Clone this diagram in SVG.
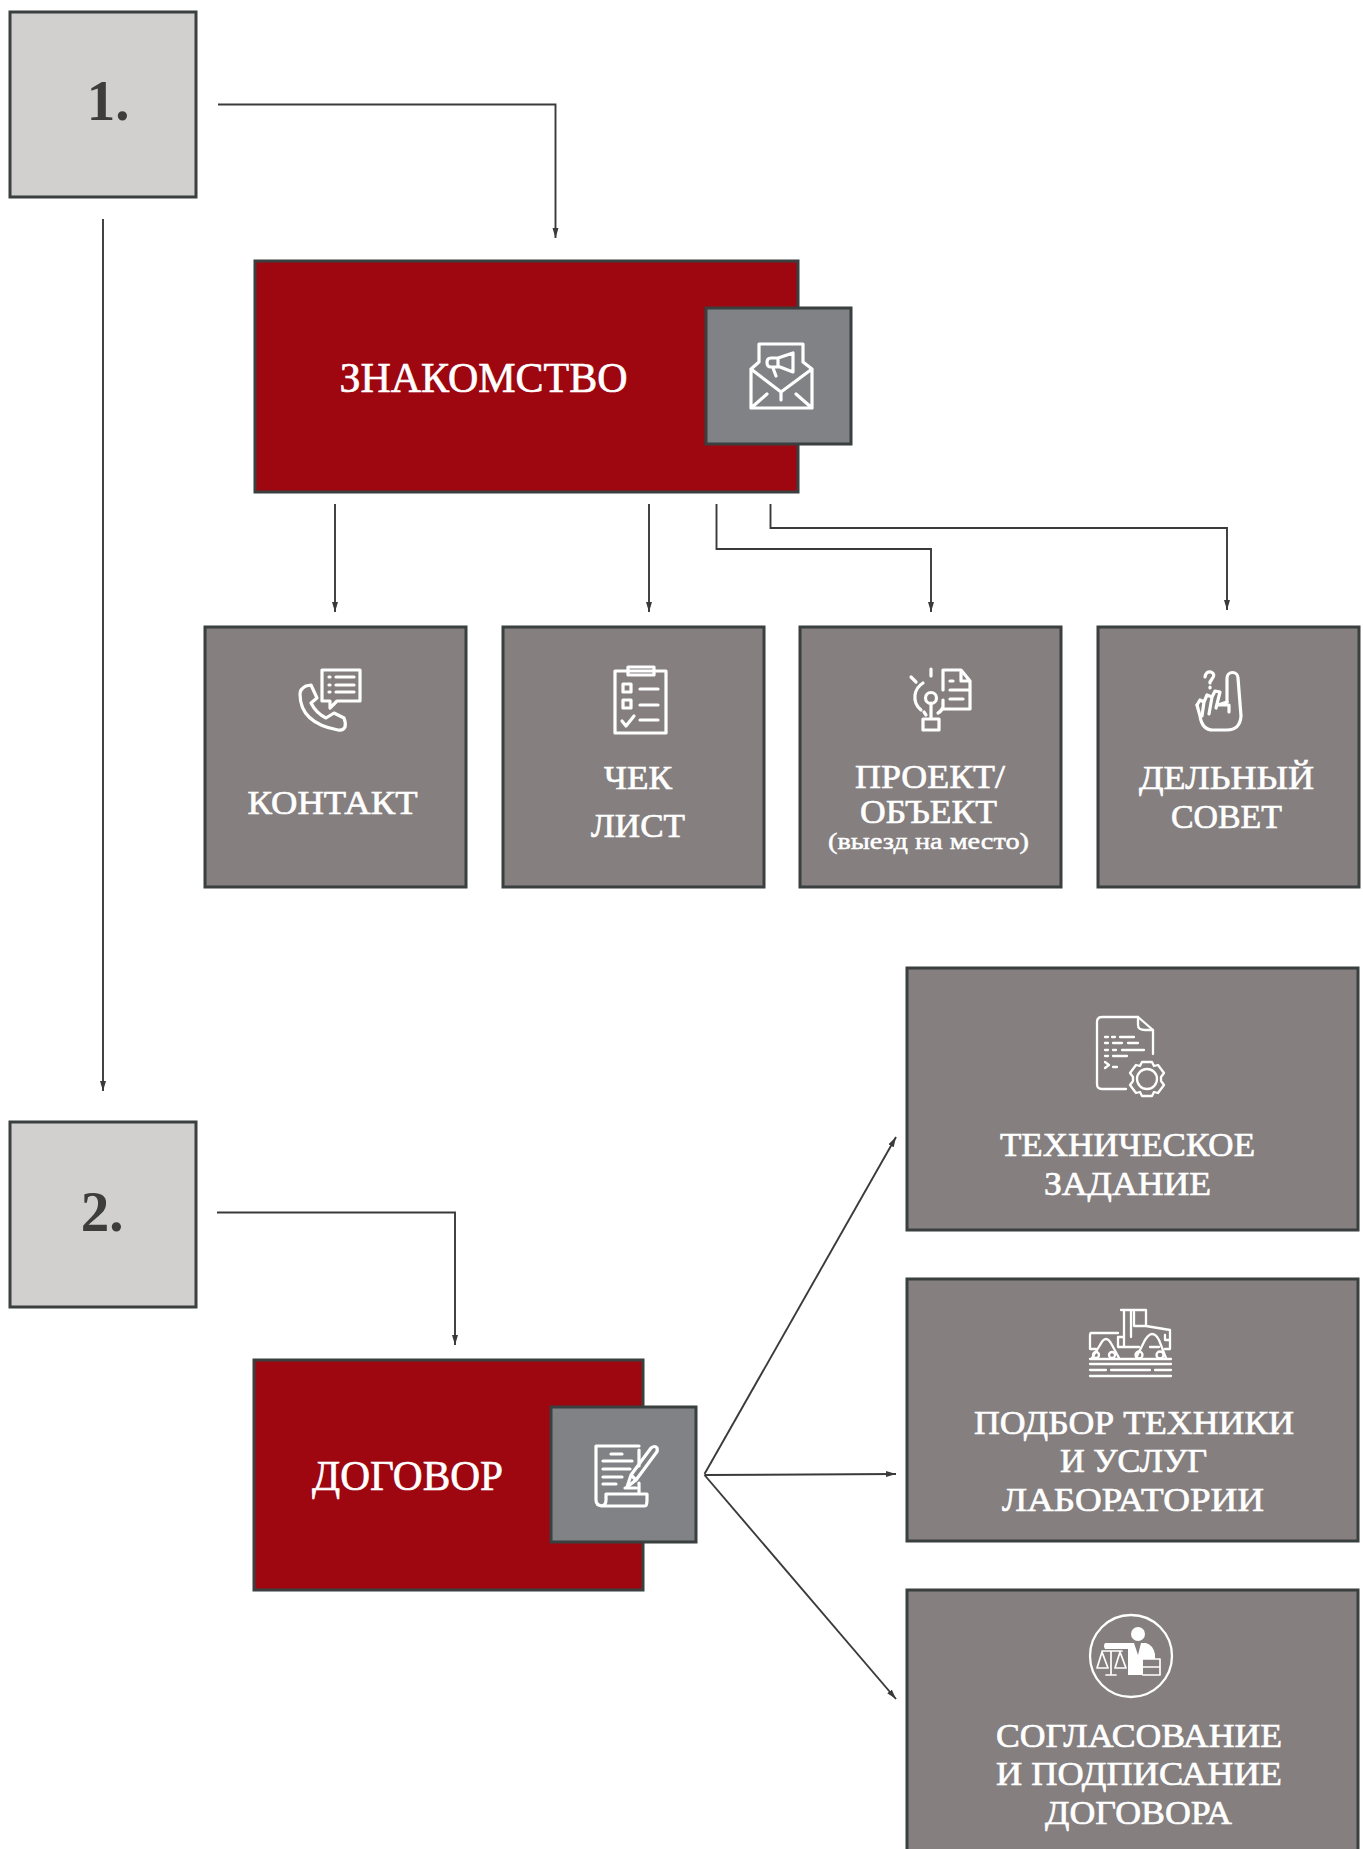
<svg xmlns="http://www.w3.org/2000/svg" width="1363" height="1849" viewBox="0 0 1363 1849">
<defs>
<marker id="arr" viewBox="0 0 10 10" refX="10" refY="5" markerWidth="10" markerHeight="10" markerUnits="userSpaceOnUse" orient="auto"><path d="M0 2L10 5L0 8Z" fill="#3a3a3a"/></marker>
</defs>
<style>
.num{fill:#d1d0ce;stroke:#3a3f3f;stroke-width:3}
.red{fill:#9e0610;stroke:#3a3f3f;stroke-width:3}
.ico{fill:#808285;stroke:#3a3f3f;stroke-width:3}
.box{fill:#857f80;stroke:#3a3f3f;stroke-width:3}
.i{fill:none;stroke:#fff;stroke-width:3.2;stroke-linecap:round;stroke-linejoin:round}
.th{stroke-width:2.3}
.hr{stroke-width:1.700}
.t{font-family:"Liberation Serif","Noto Serif",serif;fill:#fff;stroke:#fff;stroke-width:.65;text-anchor:middle}
.s{font-size:34px}
.l{font-size:42px}
.e{font-size:24px;stroke-width:.5}
.n{font-family:"Liberation Serif",serif;font-weight:bold;font-size:57px;fill:#3d3d3d;text-anchor:middle}
.c{fill:none;stroke:#3a3a3a;stroke-width:1.900}
</style>
<g id="connectors">
<path class="c" marker-end="url(#arr)" d="M218 104.500H555.500V238"/>
<path class="c" marker-end="url(#arr)" d="M103 219V1091"/>
<path class="c" marker-end="url(#arr)" d="M335 504V612"/>
<path class="c" marker-end="url(#arr)" d="M649 504V612"/>
<path class="c" marker-end="url(#arr)" d="M716.500 504V549H931V612"/>
<path class="c" marker-end="url(#arr)" d="M770.500 504V528H1227V610"/>
<path class="c" marker-end="url(#arr)" d="M217 1212.500H455V1345"/>
<path class="c" marker-end="url(#arr)" d="M704.500 1474L896 1137"/>
<path class="c" marker-end="url(#arr)" d="M704.500 1475L896 1474"/>
<path class="c" marker-end="url(#arr)" d="M704.500 1475L896 1699"/>
</g>
<g id="step1"><rect class="num" x="10" y="12" width="186" height="185"/><text class="n" x="108" y="120">1.</text></g>
<g id="step2"><rect class="num" x="10" y="1122" width="186" height="185"/><text class="n" x="102" y="1231">2.</text></g>
<g id="znakomstvo">
<rect class="red" x="255" y="261" width="543" height="231"/>
<text class="t l" x="483.500" y="392" textLength="288" lengthAdjust="spacingAndGlyphs">ЗНАКОМСТВО</text>
<rect class="ico" x="706" y="308" width="145" height="136"/>
<g><path class="i" d="M759 362V344H803V362M751 369L759 362M812 369L803 362M751 369V408H812V369L781 392ZM751 408L767 394M812 408L796 394M781 393V400"/><path class="i" stroke-linecap="round" d="M778 358L793 353V372L780 367M778 358H771Q767 358 767 362.500Q767 367 771 367H780M778 358V367M773 368L776 376"/></g>
</g>
<g id="dogovor">
<rect class="red" x="254" y="1360" width="389" height="230"/>
<text class="t l" x="407.500" y="1490" textLength="191" lengthAdjust="spacingAndGlyphs">ДОГОВОР</text>
<rect class="ico" x="551" y="1407" width="145" height="135"/>
<g class="i"><path d="M639 1446H596V1500Q596 1506 603 1506H645Q647 1506 647 1500V1494H606V1500Q606 1506 601 1506M639 1450V1466M611 1454H622M603 1461H632M603 1469H630M603 1477H622M603 1484H616M625 1488H636M639 1483V1494"/><path d="M627 1487L631 1475L651 1448Q655 1445 657 1448Q658 1451 656 1453L636 1480ZM631 1475L636 1480"/></g>
</g>
<g id="kontakt">
<rect class="box" x="205" y="627" width="261" height="260"/>
<g class="i"><path d="M322 692V670H360V701H337L330 708V701H322Z"/><path d="M329 677H330M336 677H354M329 685H330M336 685H354M329 692H330M336 692H354"/><path d="M300 694Q300 689 306 686L311 685L317 698L311 703Q316 713 326 718L334 713L344 718Q346 723 345 727Q343 731 338 730Q300 723 300 694Z"/></g>
<text class="t s" x="332.500" y="814" textLength="170" lengthAdjust="spacingAndGlyphs">КОНТАКТ</text>
</g>
<g id="check">
<rect class="box" x="503" y="627" width="261" height="260"/>
<g class="i"><path d="M615 671V733H666V671Z"/><path d="M628 671V667H654V675H628Z"/><path d="M623 684H631V692H623ZM623 700H631V708H623ZM640 689H658M640 705H658M640 720H658M622 721L626 726L634 716"/></g>
<text class="t s" x="638" y="789" textLength="68" lengthAdjust="spacingAndGlyphs">ЧЕК</text>
<text class="t s" x="638" y="837" textLength="94" lengthAdjust="spacingAndGlyphs">ЛИСТ</text>
</g>
<g id="proekt">
<rect class="box" x="800" y="627" width="261" height="260"/>
<g class="i"><circle cx="931" cy="698" r="5.500"/><path d="M931 703V719M923 719H939V730H923ZM921 710A17 17 0 0 1 915 695A17 17 0 0 1 923 683M931 669V676M911 677L916 682M924 712L926 715M938 713Q942 711 943 707V700"/><path d="M943 690V670H961L970 681V709H942M961 672V681H969M950 681H953M950 690H970M950 699H963"/></g>
<text class="t s" x="930" y="788" textLength="150" lengthAdjust="spacingAndGlyphs">ПРОЕКТ/</text>
<text class="t s" x="928.500" y="823" textLength="137" lengthAdjust="spacingAndGlyphs">ОБЪЕКТ</text>
<text class="t e" x="928.500" y="849" textLength="201" lengthAdjust="spacingAndGlyphs">(выезд на место)</text>
</g>
<g id="sovet">
<rect class="box" x="1098" y="627" width="261" height="260"/>
<g class="i"><path d="M1205 677Q1206 671 1211 672Q1216 674 1212 679L1210 682V683M1210 687V688"/><path d="M1227 702V678A5.500 5.500 0 0 1 1238 678L1241 716Q1240 730 1227 730H1213Q1202 730 1200 716L1197 705"/><path d="M1197 705L1200 700L1204 702L1202 716M1204 702L1207 695L1212 697L1209 714M1212 697L1215 691L1220 692L1216 708M1227 702L1218 705H1229V712"/></g>
<text class="t s" x="1226.500" y="789" textLength="175" lengthAdjust="spacingAndGlyphs">ДЕЛЬНЫЙ</text>
<text class="t s" x="1226.500" y="828" textLength="111" lengthAdjust="spacingAndGlyphs">СОВЕТ</text>
</g>
<g id="tz">
<rect class="box" x="907" y="968" width="451" height="262"/>
<g class="i th"><path d="M1153 1054V1030L1138 1017H1102Q1097 1017 1097 1022V1084Q1097 1089 1102 1089H1126"/><path d="M1138 1017V1025Q1138 1030 1145 1030H1153"/><path d="M1105 1037H1108M1112 1037H1115M1120 1037H1134M1105 1043H1108M1113 1043H1122M1128 1043H1138M1105 1050H1108M1113 1050H1116M1122 1050H1144M1105 1056H1108M1113 1056H1127M1105 1062L1109 1065L1105 1068M1113 1067H1117"/><circle cx="1147" cy="1079" r="10"/><path d="M1142 1062H1152L1154 1066L1158 1065L1164 1073L1161 1077V1081L1164 1085L1158 1093L1154 1092L1152 1096H1142L1140 1092L1136 1093L1130 1085L1133 1081V1077L1130 1073L1136 1065L1140 1066Z"/></g>
<text class="t s" x="1127.500" y="1156" textLength="255" lengthAdjust="spacingAndGlyphs">ТЕХНИЧЕСКОЕ</text>
<text class="t s" x="1127.500" y="1195" textLength="167" lengthAdjust="spacingAndGlyphs">ЗАДАНИЕ</text>
</g>
<g id="podbor">
<rect class="box" x="907" y="1279" width="451" height="262"/>
<g class="i th"><path d="M1121 1310H1146V1326L1170 1330V1349H1165M1124 1310V1347M1131 1310V1337M1134 1310V1326H1146M1124 1337H1118V1347M1118 1333H1091Q1090 1333 1090 1336V1349M1090 1349H1096M1118 1347H1139M1150 1347H1159M1165 1335V1340H1170"/><path d="M1092 1358L1100 1345Q1103 1339 1106 1339Q1109 1339 1112 1345L1119 1358M1136 1358L1145 1340Q1149 1334 1152 1334Q1156 1334 1159 1340L1166 1358"/><circle cx="1096" cy="1355" r="3"/><circle cx="1112" cy="1355" r="3"/><circle cx="1139" cy="1355" r="3.500"/><circle cx="1160" cy="1355" r="3.500"/><path d="M1090 1359H1171M1090 1364H1171M1090 1370H1106M1111 1370H1150M1155 1370H1171M1090 1376H1171"/></g>
<text class="t s" x="1134" y="1434" textLength="320" lengthAdjust="spacingAndGlyphs">ПОДБОР ТЕХНИКИ</text>
<text class="t s" x="1133.500" y="1472" textLength="147" lengthAdjust="spacingAndGlyphs">И УСЛУГ</text>
<text class="t s" x="1133" y="1511" textLength="262" lengthAdjust="spacingAndGlyphs">ЛАБОРАТОРИИ</text>
</g>
<g id="soglasovanie">
<rect class="box" x="907" y="1590" width="451" height="275"/>
<circle class="i th" cx="1131" cy="1656" r="41"/>
<circle cx="1138" cy="1634" r="7" fill="#fff"/>
<path fill="#fff" d="M1105 1643H1130L1134 1643L1138 1655L1141 1643H1146Q1153 1645 1155 1654V1659H1143V1675H1128V1649H1105Q1103 1646 1105 1643Z"/>
<path class="i hr" d="M1143 1659H1160V1675H1143M1143 1667H1160"/>
<path class="i hr" d="M1102 1651H1122M1111 1651V1674M1106 1675H1116M1102 1652L1097 1668H1108ZM1120 1652L1115 1668H1126Z"/>
<text class="t s" x="1139" y="1747" textLength="286" lengthAdjust="spacingAndGlyphs">СОГЛАСОВАНИЕ</text>
<text class="t s" x="1139" y="1785" textLength="286" lengthAdjust="spacingAndGlyphs">И ПОДПИСАНИЕ</text>
<text class="t s" x="1138.500" y="1824" textLength="187" lengthAdjust="spacingAndGlyphs">ДОГОВОРА</text>
</g>
</svg>
